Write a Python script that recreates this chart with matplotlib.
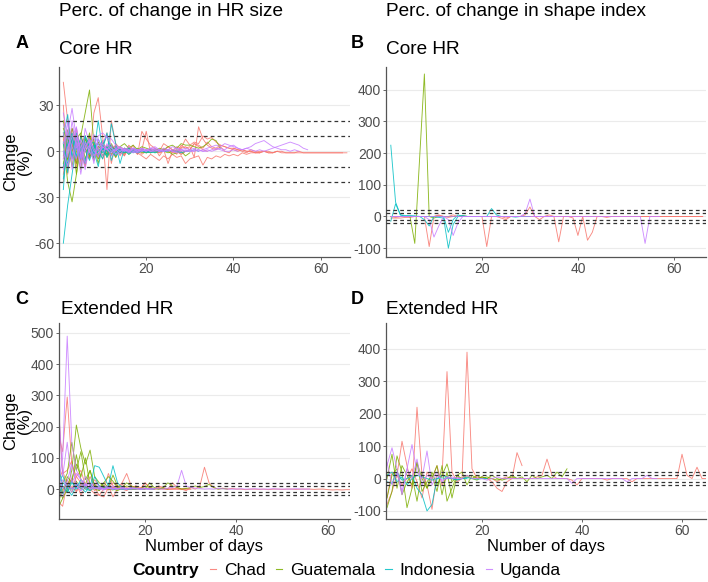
import matplotlib.pyplot as plt
from matplotlib.lines import Line2D

plt.rcParams['font.family'] = ['Liberation Sans', 'DejaVu Sans']
plt.rcParams['axes.unicode_minus'] = False

countries = ['Chad', 'Guatemala', 'Indonesia', 'Uganda']
colors = ['#F8766D', '#7CAE00', '#00BFC4', '#C77CFF']

# panel A: change in core HR size (%), one list per animal, day 1 onwards
a_chad = [
    [45, 20, 5, -8, 10, 3, -5, 25, 35, 10, -25, 20, 5, -3, 2, 0, 4, -2, 1, 13, -1, 2, 0, 5, 3, 1, -2, 4, 2, 3, -4,
     16, 8, 4, 2, 1, 3, 0, -1, 2, 1, 0, -1, 1, 0, -1, 0, 0, -1, 0, -1, -1, -1, -1, -1, -1, -1, -1, -1, -1, -1, -1,
     -1, -1, -1, -1],
    [-20, 10, -5, 15, 0, -10, 5, 8, -5, 3, 12, -8, 5, 2, -3, 4, 1, -2, 13, 8, 4, 2, -3, 1, -8, 0, 3, 2, 8, 4, 6,
     5, 10, 8, 9, 6, 4, 3, 2, 2, 1, 1, 0, 0, -1, -1],
    [10, -5, 5, -10, 3, 0, -5, 4, 2, -3, 0, 2, -4, 1, -2, 3, 0, -1, -3, -5, -2, -4, -6, -3, -5, -2, -4, -3, -8,
     -5, -4, -3, -9, -4, -5, -3, -4, -2, -3, -2, -3, -1, -2, -1, -1, -1, 0, -1, -1, 0],
    [30, -15, 8, 2, -6, 5, 0, 3, -2, 6, 1, -3, 2, 0, 1, -1, 2, 0, 1, 0, -1, 1, 0, 0, 1, -1, 0, 2, 3, 1, 5, 4, 2,
     6, 3, 2, 4, 3, 2, 1, 0, 1, 0, 0, -1, 0, 0, -1, -1, 0, 0, -1, -1, -1, 0, -1, -1, -1, -1, -1, -1, -1, -1, -1,
     -1],
    [-5, 8, 12, -6, 4, -10, 6, 2, -4, 3, 1, -2, 4, 0, 2, -1, 0, 1, -2, 0, 1, 0, -1, 2, 0, 1, 0, -2, 0, 1],
    [8, -12, 15, 4, -6, 10, -3, 6, 2, -5, 4, 0, 3, -2, 1, 2, 0, -1, 1, 0, 2, 0, -1, 0, 1, 0, 0, -1, 0],
    [-15, 6, 0, 12, -8, 3, 9, -4, 2, 7, -2, 1, 4, 0, -3, 2, 1, 0, 2, -1, 0, 1, 0, 0, 3, 1, 0, -2, 0, 1, 5, 3, 1, 0],
]
a_guat = [
    [5, -20, -33, -15, 10, 25, 40, 5, -5, 2, 3, -2, 0, 1, -1, 2, 0, 1, 0, -1, 0, 1, 0, 0, -1, 0, 1, 0],
    [15, 5, -10, 8, 12, -5, 3, 0, 6, -3, 2, 4, -1, 3, 5, 2, 4, 1, 3, 2, 1, 0, 2, 1, 3, 4, 2, 5, 4, 4, 3, 2, 3,
     5, 8, 7, 2],
    [-10, 8, 3, -5, 6, 2, -3, 4, -8, 5, 0, 2, -4, 3, 1, -2, 0, 2, -1, 0, 1, -1, 0, 1, 0, -2, -1, 0, -3, -1],
    [20, -5, 10, 0, -12, 8, 2, -6, 3, 1, -2, 5, 0, -1, 2, 1, 0, -1, 1, 0],
    [-8, 4, 15, 6, -3, -8, 10, 4, -2, 3, -4, 1, 2, 0, -1, 1, 0, 0, 1, 0, -1, 0],
    [12, -6, 8, -15, 4, 10, -4, 2, 6, 0, -3, 2, 1, -1, 0, 2, 0, 1, 0, -1, 0, 0, 1],
    [-3, 14, 2, -8, 5, 0, 12, -5, 3, 1, -2, 4, 0, 2, -1, 0, 1, 0, 0],
]
a_indo = [
    [-60, -35, -15, 5, -5, 10, 3, -4, 8, 2, -3, 18, 5, -8, 2, 1, 0, -1, 1, 0, 0, -1, 0],
    [10, 24, -5, 12, 3, -8, 5, 0, -10, 4, 10, 2, -3, 1, 0, 2, -1, 1, 0, 0, -1, 0, 1, 0, 0],
    [-10, 5, 8, -3, 2, 6, -2, 4, 1, -5, 3, 0, 2, -1, 1, 0, 2, 1, 0, -1, 0, 1, 0, 0, 1, 0, 0, -1, 0, 0, 1, 0],
    [0, -8, 6, 3, -4, 10, 2, -1, 20, 1, 12, -6, 3, 0, 1, -2, 0, 1, 0, 0],
    [-25, 12, -4, 8, 0, -6, 4, 6, -3, 2, 0, 3, -1, 1, 0, -1, 1, 0],
    [6, -14, 10, 2, -5, 4, 8, -2, 0, 3, -4, 2, 1, 0, -1, 1, 0, 0, 1, 0],
    [-18, 4, 12, -4, 9, 1, -6, 3, 5, -1, 2, 0, -2, 1, 0, 1, 0, -1, 0, 0, 1],
]
a_ugan = [
    [5, 12, 28, 8, -10, 15, 5, -8, 10, 12, 9, 4, 2, 3, 1, 0, 2, 1, 0, 1, 2, 1, 0, 1, 0, 1, 2, 1, 0, 0, 1, 0, 1,
     2, 3, 4, 3, 5, 4, 3, 2, 1, 2, 1, 0, 1, 0, 1, 2, 3, 4, 5, 6, 5, 4, 2, 1],
    [-5, 20, -12, 6, -15, 3, 8, 2, -4, 5, 1, 3, -2, 0, 2, 1, 0, -1, 1, 0, 2, 3, 1, 0, 1, 0, -1, 0, 1, 0, 0, 1,
     0, 0, 1, 2, 1, 0, 0, 1, 0],
    [25, 10, 3, -5, 8, 0, 4, -3, 2, 6, 10, 8, 4, 2, 0, 3, 1, 0, 2, 1, 0, 1, 0, 2, 1, 3, 2, 1, 0, 1, 2, 1, 0, 1,
     0, 1, 2, 1, 3, 4, 2, 1, 2, 3, 5, 6, 7, 5, 3, 2, 1, 1, 0, 1, 0],
    [0, -10, 5, 15, -5, 2, 7, 0, -2, 3, 1, -1, 2, 0, 1, 0, -1, 0, 1, 0],
    [12, -4, 20, 2, 6, -8, 3, 11, 5, 0, 2, -3, 1, 2, 0, 1, 0, 1, 2, 1, 0, 1, 0, 0, 1, 0, 1, 0],
    [18, 6, -6, 10, 2, -12, 4, 9, 1, -3, 5, 2, 0, 3, 1, -1, 2, 0, 1, 0, 1, 2, 1, 0, 1, 0, 0, 1, 2, 1, 0],
    [-12, 3, 9, 16, -4, 6, 0, -6, 8, 2, 4, 0, 1, -2, 1, 0, 2, 1, 0, 1, 0, 0, 1, 0],
]

# panel B: change in core HR shape index (%)
b_chad = [
    [-5, -5, -5, -3, -3, 0, 0, 0, -95, 0, 5, 0, -3, 0, 0, 0, 0, 0, 0, 0, -95, 0, 0, -5, -10, 0, 0, 0, 5, 30, 0,
     -10, 0, 5, 0, -80, 0, 0, -5, -60, 0, -75, -50, 0, 0, -3, 0, 0, 0, 0, 0, 0, 0, 0, 0, 0, 0, 0, 0, 0, 0, 0, 0,
     0, 0, 0],
    [0, -3, 0, 0, 0, 0, 0, 0, 0, 0, 3, 0, 0, 5, 0, 0, 0, 0, 0, 0, 0, 0, 0, 0, -5, 0, 0, 0, 0, 0, 0, 0, 0, 0, 0,
     0, 0, 0, 0, 0, 0, 0, 0, 0, 0, 0, 0, 0, 0, 0, 0, 0, 0, 0, 0, 0, 0, 0, 0, 0, 0, 0, 0, 0, 0, 0],
]
b_guat = [
    [0, 0, 0, 0, 0, -85, 182, 450, 0, -5, 0, 0, 0, 0, 0, 3, 0, 0, 0, 0, 0, 0, 0, 0, 0, 0, 0, 0, 0, 0],
    [0, 0, 0, 0, 0, 0, 0, 0, 0, 0, 0, 0, 0, 0, 0, 0, 0, 0, 0, 0, 0, 0, 0, 0, 0, 0, 0, 0],
]
b_indo = [
    [225, 45, 5, 3, 3, 2, 0, -10, -30, 0, -3, -5, -100, -25, 0, 3, 0, 0, 0, 0, 0, 25, 5, 0, 0, 0, -2, 0, 0, 0],
    [-15, 40, 5, 0, 0, 0, 0, 0, 0, 0, 0, 0, -50, -10, 5, 0, 0],
]
b_ugan = [
    [0, 0, 0, 0, 0, 0, 0, 0, -10, -65, -30, 0, -10, -60, -20, 0, 0, 0, 0, 0, 0, 0, 0, 0, 0, 0, 0, 0, 10, 55, 0,
     0, 0, 0, 0, 0, 0, 0, 0, 0, 0, 0, 0, 0, 0, 0, 0, 0, 0, 0, 0, 0, 0, -85, 0, 0, 0],
    [0, 0, 0, 0, 0, 0, 0, 0, 0, 0, 0, 0, 0, 0, 0, 0, 0, 0, 0, 0, 0, 0, 0, 0, 0, 0, 0, 0, 0, 0, 0, 0, 0, 0, 0],
]

# panel C: change in extended HR size (%)
c_chad = [
    [180, 120, 295, 80, 40, 20, 10, 5, 30, 10, 0, 50, 10, 5, 20, 50, 10, 5, 0, 20, 5, 0, 10, 5, 0, 20, 5, 0, -5,
     5, 0, 10, 70, 20, 5, 0, 3, 0, 2, 0, 0, -2, 0, 0, -1, 0, -2, 0, 0, -1, 0, 0, -1, 0, 0, 0, -1, 0, 0, -2, -3,
     -2, -3, -2, -2, -3],
    [280, 50, 60, 90, 20, -20, 10, 40, 5, -20, 0, 10, -25, 0, 15, 5, 0, 10, 5, 3, 2, 0, 5, 2, 0, 0, 3, 0, 1, 0],
    [-40, -55, 20, 0, 40, 60, 10, 0, -15, -20, -25, 5, 20, 10, 0, -5, 5, 10, 0, 20, 5, 0, 3, 2, 0, 1, 0, -1, 0],
    [10, -10, 30, 5, -5, 15, 0, 10, -5, 5, 0, -3, 8, 0, 3, 0, -2, 2, 0, 1, 0, 0, 1, 0, -1, 0, 0, 1, 0, 0],
    [20, 60, 10, 35, -10, 20, 5, 0, 15, -5, 10, 0, 5, 0, 2, 0, 0, 1],
]
c_guat = [
    [-60, -30, 0, 60, 205, 130, 80, 125, 40, 20, 10, 5, 45, 10, 5, 20, 10, 5, 0, 10, 5, 2, 0, 5, 20, 10, 5, 0, 2,
     5, 10, 5, 8, 15, 5, 0, 2, 0],
    [0, 20, 50, 150, 60, 120, 30, 60, 10, 5, 20, 40, 25, 5, 0, 10, 5, 0, 2, 0, 20, 5, 0, 3, 0],
    [-20, 10, -10, 30, 80, 40, 100, 10, 0, -5, 20, 5, 0, -5, 3, 0, 2, 0],
    [-45, 0, 15, -10, 25, 0, 10, -5, 15, 0, 5, 0, -3, 5, 0, 2, 0, 0, 1, 0],
    [10, -30, 40, 20, 110, 30, 15, 60, 5, 0, 10, 0, 3, 0, 1, 0],
]
c_indo = [
    [80, 10, -10, 20, 5, 30, 10, 5, 75, 70, 40, 10, 75, 20, 5, 0, 3, 2, 0, 1, 0, 0],
    [-30, 20, 10, 0, 15, 5, -10, 10, 5, 0, 3, 10, 0, 2, 0, 1, 0],
    [40, -15, 5, 25, 0, 10, 0, -5, 5, 10, 0, 5, 0, 2, 0, 0, 1, 0],
    [15, 45, 0, -20, 10, 20, 5, 0, 40, 10, 0, 3, 0, 1],
]
c_ugan = [
    [10, 100, 490, 150, 60, 30, 10, 20, 5, 0, 10, 5, 0, 3, 2, 0, 5, 2, 0, 3, 0, 2, 1, 0, 3, 5, 10, 60, 10, 5, 3,
     2, 0, 1, 0, 2, 1, 0, 0, 0, 1, 0, 0, 1, 0, 0, 0, 1, 0, 0, 0, 0, 1, 0, 0, 0],
    [300, 40, 150, 20, 50, 30, 10, 5, 20, 10, 0, 5, 10, 0, 5, 2, 0, 3, 0, 1, 0],
    [-20, 30, 10, -10, 20, 5, 40, 10, 0, 5, 0, 10, 2, 0, 5, 0, 2, 0, 0, 1, 0, 0],
    [5, -25, 20, 0, 10, -5, 15, 0, 5, 0, -3, 3, 0, 1, 0, 0],
    [60, 0, 25, 80, 10, -5, 20, 0, 10, 5, 0, 2, 0],
]

# panel D: change in extended HR shape index (%)
d_chad = [
    [-60, 20, 10, 115, 40, -30, 220, 10, -20, -95, 10, 5, 330, 20, -10, 0, 390, 30, 0, 5, 0, -10, -30, -40, -10,
     0, 80, 40],
    [-80, -40, 10, -20, 0, 30, -10, -60, 20, 0, 40, -20, 5, 0, -5, 0, 10, 0, 5, 0, 0, 0, -10, 0, 5, 0, 0, 0, 0,
     0, 5, 10, 60, 10, 0, 0, 0, -5, -20, 0, 0, 0, 0, 0, -5, 0, 0, 0, 0, -10, 0, 0, 0, 0, 0, 0, 0, 0, 0, 75, 10,
     0, 35, 0, 0],
]
d_guat = [
    [-90, -40, 70, 20, -90, -30, 50, -40, -10, 10, -40, 40, -70, -30, 10, 20, -20, 10, 0, 5, 0, 10, 0, -5, 0, 10,
     0, 5, -10, 10, 0, 5, 10, 0, 20, 5, 30],
    [-60, 10, 30, -50, -10, 10, -70, 20, -30, 0, 40, -50, 20, -60, 10, 0, 5, 0, 10, 0, 5, 0, -5, 0, 0, 5, 0],
    [0, 75, -30, 40, 10, -20, 50, 0, -30, 20, -20, 10, 45, -10, 5, 0, 10, 0, -5, 5, 0],
]
d_indo = [
    [-10, -15, 20, -5, 0, 10, -30, -50, -100, -80, 0, 10, 5, 0, -5, 0, 3, 0, -2, 0, 0],
    [10, 20, -10, 5, -20, 0, 10, 5, 0, -5, 0, 2, 0, 0, -3, 0, 0],
]
d_ugan = [
    [40, 95, 30, -40, 30, 105, 20, 0, 85, -20, 10, -5, 0, 5, 0, 0, 10, 0, 0, 0, -5, 0, 5, 0, 0, 0, 0, 0, 0, 0,
     0, 0, 0, 0, 0, 0, 0, -15, 0, 0, 0, 0, 0, 0, 0, 0, 0, 0, -10, 0, 0, 0, 10, 0, 0],
    [50, -20, 20, -50, 30, 0, 60, -20, 10, 0, 20, -10, 5, 0, 3, 0],
]

thresholds = [-20, -10, 10, 20]

fig = plt.figure(figsize=(7.08, 5.82), dpi=100)


def draw_panel(rect, groups, ylim, yticks, xlim, xlabel=False):
    ax = fig.add_axes(rect)
    for series_list, col in zip(groups, colors):
        for vals in series_list:
            days = range(1, len(vals) + 1)
            ax.plot(days, vals, color=col, lw=0.65, alpha=0.85)
    for t in thresholds:
        ax.axhline(t, color='#333333', ls=(0, (3, 2.5)), lw=0.9, zorder=5)
    ax.set_xlim(*xlim)
    ax.set_ylim(*ylim)
    ax.set_xticks([20, 40, 60])
    ax.set_yticks(yticks)
    ax.yaxis.grid(True, color='#EBEBEB', lw=0.8)
    ax.set_axisbelow(True)
    for s in ['top', 'right']:
        ax.spines[s].set_visible(False)
    for s in ['left', 'bottom']:
        ax.spines[s].set_color('#555555')
        ax.spines[s].set_linewidth(0.9)
    ax.tick_params(colors='#4D4D4D', labelsize=10, length=2, width=0.6, pad=1.5)
    if xlabel:
        ax.set_xlabel('Number of days', fontsize=12, labelpad=1)
    return ax


axA = draw_panel([0.0833, 0.5584, 0.411, 0.3265], [a_chad, a_guat, a_indo, a_ugan],
                 (-69, 55), [-60, -30, 0, 30], (0, 66.7))
axB = draw_panel([0.5452, 0.5584, 0.452, 0.3265], [b_chad, b_guat, b_indo, b_ugan],
                 (-128, 472), [-100, 0, 100, 200, 300, 400], (0, 66.7))
axC = draw_panel([0.0833, 0.1082, 0.411, 0.3368], [c_chad, c_guat, c_indo, c_ugan],
                 (-96, 532), [0, 100, 200, 300, 400, 500], (1.2, 64.8), xlabel=True)
axD = draw_panel([0.5452, 0.1082, 0.452, 0.3368], [d_chad, d_guat, d_indo, d_ugan],
                 (-125, 480), [-100, 0, 100, 200, 300, 400], (0.8, 64.8), xlabel=True)

for ax in [axA, axC]:
    ax.set_ylabel('Change\n(%)', fontsize=12, linespacing=0.95)
    ax.yaxis.set_label_coords(-0.092, 0.5)

fig.text(59 / 708, 1 - 11 / 582, 'Perc. of change in HR size', fontsize=13.7, va='center', ha='left')
fig.text(386 / 708, 1 - 11 / 582, 'Perc. of change in shape index', fontsize=13.7, va='center', ha='left')

for lab, x, y in [('A', 22, 43), ('B', 357, 43), ('C', 22, 299), ('D', 357, 299)]:
    fig.text(x / 708, 1 - y / 582, lab, fontsize=13, fontweight='bold', va='center', ha='center')
for lab, x, y in [('Core HR', 59, 50), ('Core HR', 386, 50), ('Extended HR', 61, 310), ('Extended HR', 386, 310)]:
    fig.text(x / 708, 1 - y / 582, lab, fontsize=13.7, va='center', ha='left')

# legend along the bottom
fig.text(132 / 708, 1 - 570 / 582, 'Country', fontsize=12.5, fontweight='bold', va='center', ha='left')
handles = [Line2D([0], [0], color=c, lw=0.8, alpha=0.85) for c in colors]
fig.legend(handles, countries, loc='center left', bbox_to_anchor=(210 / 708, 1 - 570 / 582), ncol=4,
           frameon=False, fontsize=12.5, handlelength=0.35, handletextpad=0.45, columnspacing=0.6,
           borderaxespad=0, borderpad=0)

fig.savefig('out.png', dpi=100)
